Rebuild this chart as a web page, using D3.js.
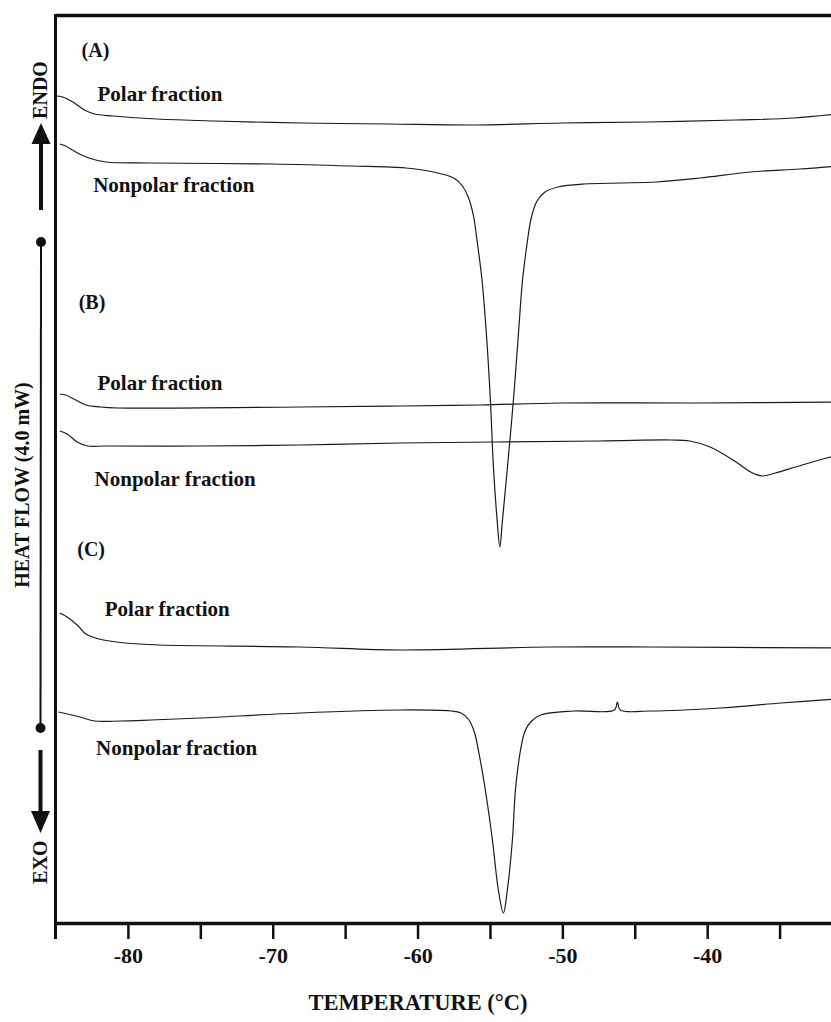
<!DOCTYPE html>
<html>
<head>
<meta charset="utf-8">
<script src="https://cdn.jsdelivr.net/npm/d3@7"></script>
<style>
  html, body { margin: 0; padding: 0; background: #fff; }
  svg { display: block; }
  text { font-family: "Liberation Serif", "Times New Roman", serif; font-weight: bold; fill: #111; }
</style>
</head>
<body>
<svg id="chart" width="831" height="1022"></svg>
<script>
// ---- Data (temperature in °C, heat flow in arbitrary offset units) ----
const xTicks = [-80, -75, -70, -65, -60, -55, -50, -45, -40, -35];
const xTickLabels = ["-80", "", "-70", "", "-60", "", "-50", "", "-40", ""];

const aPolarT = [-85, -84.5, -83.8, -83, -82.3, -81, -78, -74, -68, -62, -56, -50, -44, -38, -34, -31];
const aPolarV = [82.7, 82.6, 82.1, 81.3, 80.9, 80.7, 80.4, 80.2, 80.0, 79.9, 79.8, 80.0, 80.1, 80.3, 80.5, 80.9];

const aNonpolarT = [-84.7, -84.3, -83.6, -82.7, -81.5, -78.5, -70, -64.6, -60.8, -58.9, -57.5, -56.9, -56.5, -56.15, -55.85, -55.55, -55.25, -54.97, -54.76, -54.5, -54.32, -54.14, -53.79, -53.38, -53.03, -52.75, -52.45, -52.15, -51.75, -51.2, -50.3, -48.5, -46, -43.5, -40.5, -37.0, -33.6, -31.0];
const aNonpolarV = [77.9, 77.7, 77.1, 76.5, 76.1, 76.0, 75.9, 75.7, 75.5, 75.1, 74.5, 73.7, 72.6, 70.8, 67.8, 64.3, 59.0, 52.3, 45.6, 40.2, 37.6, 40.2, 45.6, 52.3, 59.0, 64.3, 67.8, 70.5, 72.2, 73.1, 73.6, 73.9, 74.0, 74.1, 74.5, 75.1, 75.4, 75.7];

const bPolarT = [-84.7, -84.3, -83.6, -82.9, -81.9, -80.7, -68.1, -61.2, -55.7, -50.1, -40.5, -31.0];
const bPolarV = [52.9, 52.8, 52.3, 51.8, 51.6, 51.5, 51.6, 51.7, 51.8, 52.0, 52.0, 52.1];

const bNonpolarT = [-84.7, -84.2, -83.5, -82.8, -81.5, -75, -68.1, -61.2, -47.4, -42.5, -41.2, -39.8, -38.0, -37.0, -36.2, -35.3, -33.9, -32.5, -31.0];
const bNonpolarV = [49.2, 48.9, 48.1, 47.7, 47.7, 47.7, 47.8, 48.0, 48.2, 48.3, 48.2, 47.6, 46.1, 45.1, 44.7, 45.0, 45.6, 46.2, 46.8];

const cPolarT = [-84.7, -84.2, -83.5, -82.9, -82.0, -80.2, -77.8, -68.1, -61.2, -50.8, -43.9, -31.0];
const cPolarV = [31.0, 30.6, 29.8, 28.9, 28.4, 28.0, 27.8, 27.6, 27.3, 27.6, 27.6, 27.5];

const cNonpolarT = [-84.8, -83.3, -82.3, -80.5, -78.4, -75.0, -68.1, -61.2, -57.7, -57.0, -56.5, -56.1, -55.75, -55.32, -54.83, -54.42, -54.07, -53.8, -53.45, -53.24, -52.9, -52.6, -52.2, -51.5, -49.2, -46.4, -46.2, -46.0, -43.9, -39.1, -34.9, -31.0];
const cNonpolarV = [21.1, 20.6, 20.2, 20.2, 20.3, 20.5, 21.0, 21.3, 21.2, 21.0, 20.4, 19.2, 16.9, 13.3, 8.3, 3.3, 1.0, 3.3, 8.3, 13.3, 17.2, 19.1, 20.1, 20.8, 21.2, 21.3, 22.1, 21.3, 21.2, 21.5, 22.0, 22.4];

const panelLabels = ["(A)", "(B)", "(C)"];
const seriesLabels = ["Polar fraction", "Nonpolar fraction"];

// ---- Scales ----
const svg = d3.select("#chart");
const x = d3.scaleLinear().domain([-85, -30]).range([55.5, 852]);
const y = d3.scaleLinear().domain([0, 90.8]).range([923, 15]);

const series = [
  [aPolarT, aPolarV], [aNonpolarT, aNonpolarV],
  [bPolarT, bPolarV], [bNonpolarT, bNonpolarV],
  [cPolarT, cPolarV], [cNonpolarT, cNonpolarV]
];

const line = d3.line().x(d => x(d[0])).y(d => y(d[1])).curve(d3.curveCatmullRom.alpha(0.5));

svg.append("g").selectAll("path").data(series).join("path")
  .attr("d", s => line(s[0].map((t, i) => [t, s[1][i]])))
  .attr("fill", "none").attr("stroke", "#1a1a1a").attr("stroke-width", 1.2);

// ---- Frame ----
const frame = svg.append("g").attr("stroke", "#111").attr("fill", "none");
frame.append("line").attr("x1", x(-85)).attr("x2", 831).attr("y1", 15.5).attr("y2", 15.5).attr("stroke-width", 3.5);
frame.append("line").attr("x1", x(-85)).attr("x2", x(-85)).attr("y1", 14).attr("y2", 939).attr("stroke-width", 3);

// ---- X axis ----
const xAxis = d3.axisBottom(x).tickValues(xTicks)
  .tickFormat((d, i) => xTickLabels[i]).tickSize(16).tickSizeOuter(0).tickPadding(8);
const gx = svg.append("g").attr("transform", "translate(0,923)").call(xAxis);
gx.select(".domain").attr("stroke", "#111").attr("stroke-width", 3.5);
gx.selectAll(".tick line").attr("stroke", "#111").attr("stroke-width", 2.5);
gx.selectAll(".tick text").attr("font-family", "Liberation Serif, serif").attr("font-weight", "bold")
  .attr("font-size", 22).attr("fill", "#111");

svg.append("text").attr("x", 418).attr("y", 1010).attr("text-anchor", "middle")
  .attr("font-size", 22.5).text("TEMPERATURE (°C)");

// ---- Panel & series labels ----
const labelData = [
  {t: panelLabels[0], x: -83.2, v: 86.6, s: 20},
  {t: seriesLabels[0], x: -82.1, v: 82.2, s: 21},
  {t: seriesLabels[1], x: -82.4, v: 73.1, s: 21},
  {t: panelLabels[1], x: -83.4, v: 61.4, s: 20},
  {t: seriesLabels[0], x: -82.1, v: 53.3, s: 21},
  {t: seriesLabels[1], x: -82.3, v: 43.7, s: 21},
  {t: panelLabels[2], x: -83.5, v: 36.7, s: 20},
  {t: seriesLabels[0], x: -81.6, v: 30.7, s: 21},
  {t: seriesLabels[1], x: -82.2, v: 16.8, s: 21}
];
svg.append("g").selectAll("text").data(labelData).join("text")
  .attr("x", d => x(d.x)).attr("y", d => y(d.v)).attr("font-size", d => d.s).text(d => d.t);

// ---- Y-axis annotation (ENDO / HEAT FLOW / EXO) ----
const ann = svg.append("g");
ann.append("line").attr("x1", 41).attr("x2", 41).attr("y1", 210).attr("y2", 140)
  .attr("stroke", "#111").attr("stroke-width", 4);
ann.append("path").attr("d", "M41,123 L31.5,144 L50.5,144 Z").attr("fill", "#111");
ann.append("line").attr("x1", 41).attr("x2", 40.5).attr("y1", 242).attr("y2", 728)
  .attr("stroke", "#111").attr("stroke-width", 2);
ann.append("circle").attr("cx", 41).attr("cy", 242).attr("r", 5).attr("fill", "#111");
ann.append("circle").attr("cx", 40.5).attr("cy", 728).attr("r", 5).attr("fill", "#111");
ann.append("line").attr("x1", 40.5).attr("x2", 40.5).attr("y1", 750).attr("y2", 815)
  .attr("stroke", "#111").attr("stroke-width", 4);
ann.append("path").attr("d", "M31,811 L50,811 L40.5,833 Z").attr("fill", "#111");

ann.append("text").attr("transform", "translate(47,90) rotate(-90)").attr("text-anchor", "middle")
  .attr("font-size", 20).text("ENDO");
ann.append("text").attr("transform", "translate(47,862) rotate(-90)").attr("text-anchor", "middle")
  .attr("font-size", 20).text("EXO");
ann.append("text").attr("transform", "translate(29,485) rotate(-90)").attr("text-anchor", "middle")
  .attr("font-size", 20).text("HEAT FLOW (4.0 mW)");
</script>
</body>
</html>
